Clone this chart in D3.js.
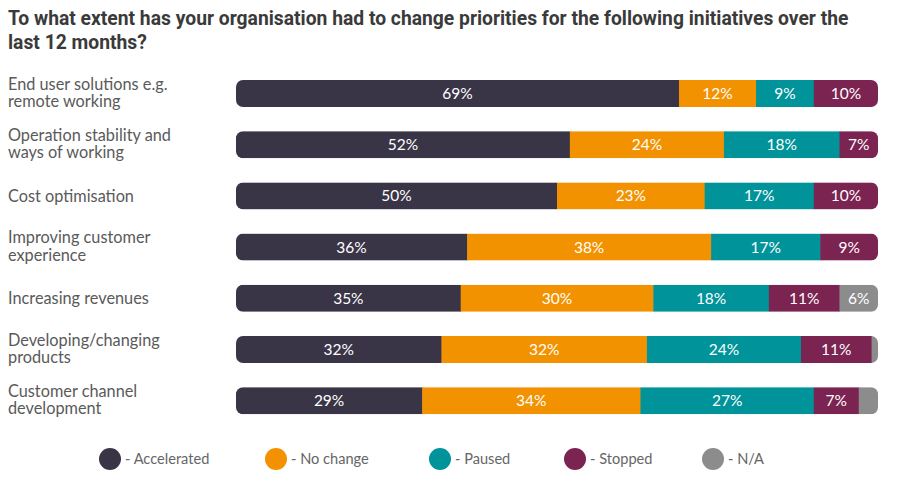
<!DOCTYPE html>
<html>
<head>
<meta charset="utf-8">
<script src="https://cdn.jsdelivr.net/npm/d3@7"></script>
<style>
  body { margin: 0; background: #fff; }
  svg { display: block; }
</style>
</head>
<body>
<svg id="chart" width="900" height="483"></svg>
<script>
// chart data
const categories = [
  ["End user solutions e.g.", "remote working"],
  ["Operation stability and", "ways of working"],
  ["Cost optimisation"],
  ["Improving customer", "experience"],
  ["Increasing revenues"],
  ["Developing/changing", "products"],
  ["Customer channel", "development"]
]
const seriesNames = ["Accelerated", "No change", "Paused", "Stopped", "N/A"]
const accelerated = [69, 52, 50, 36, 35, 32, 29]
const noChange = [12, 24, 23, 38, 30, 32, 34]
const paused = [9, 18, 17, 17, 18, 24, 27]
const stopped = [10, 7, 10, 9, 11, 11, 7]
const notApplicable = [0, 0, 0, 0, 6, 1, 3]

const colors = ["#3a3447", "#f39200", "#00939a", "#7b2351", "#8c8c8c"]

const svg = d3.select("#chart")
const margin = { left: 236, right: 22, top: 80 }
const width = 900 - margin.left - margin.right
const rowStep = 51.2
const barH = 27

// title
const title = svg.append("text")
  .style("font-family", "Roboto, sans-serif")
  .style("font-weight", "bold")
  .style("font-size", "19.3px")
  .style("fill", "#3a3a3a")
title.append("tspan").attr("x", 8).attr("y", 25).text("To what extent has your organisation had to change priorities for the following initiatives over the")
title.append("tspan").attr("x", 8).attr("y", 49).text("last 12 months?")

// build rows
const rows = categories.map((c, i) => {
  const vals = [accelerated[i], noChange[i], paused[i], stopped[i], notApplicable[i]]
  return { label: c, vals: vals }
})

const x = d3.scaleLinear().domain([0, 100]).range([0, width])
const nRows = rows.length
const y = d3.scaleBand()
  .domain(d3.range(nRows))
  .range([margin.top, margin.top + rowStep * (nRows - 1) + barH])
  .paddingInner(1 - barH / rowStep)
  .paddingOuter(0)

const defs = svg.append("defs")

rows.forEach((r, i) => {
  const y0 = y(i)
  defs.append("clipPath").attr("id", "clip" + i)
    .append("rect")
    .attr("x", margin.left).attr("y", y0)
    .attr("width", width).attr("height", y.bandwidth())
    .attr("rx", 7).attr("ry", 7)

  const g = svg.append("g").attr("clip-path", `url(#clip${i})`)
  let acc = 0
  const segs = r.vals.map((v, k) => {
    const s = { k: k, v: v, start: Math.min(acc, 100), end: Math.min(acc + v, 100) }
    acc += v
    return s
  })

  g.selectAll("rect")
    .data(segs.filter(s => s.v > 0))
    .join("rect")
    .attr("x", s => margin.left + x(s.start))
    .attr("y", y0)
    .attr("width", s => x(s.end) - x(s.start) + 0.5)
    .attr("height", y.bandwidth())
    .attr("fill", s => colors[s.k])

  svg.append("g").selectAll("text")
    .data(segs.filter(s => s.v >= 5))
    .join("text")
    .attr("x", s => margin.left + (x(s.start) + x(s.end)) / 2)
    .attr("y", y0 + y.bandwidth() / 2)
    .attr("dy", "0.36em")
    .attr("text-anchor", "middle")
    .style("font-family", "Lato, sans-serif")
    .style("font-size", "15.5px")
    .style("fill", "#fff")
    .text(s => s.v + "%")

  // category label
  const lab = svg.append("text")
    .style("font-family", "Lato, sans-serif")
    .style("font-size", "16.3px")
    .style("fill", "#5a5a5a")
  const cy = y0 + y.bandwidth() / 2
  if (r.label.length === 1) {
    lab.append("tspan").attr("x", 8).attr("y", cy + 6).text(r.label[0])
  } else {
    lab.append("tspan").attr("x", 8).attr("y", cy - 4).text(r.label[0])
    lab.append("tspan").attr("x", 8).attr("y", cy + 13.5).text(r.label[1])
  }
})

// legend
const legendX = [110, 276, 440, 575, 713]
const legend = svg.append("g")
seriesNames.forEach((n, k) => {
  legend.append("circle")
    .attr("cx", legendX[k]).attr("cy", 459).attr("r", 11)
    .attr("fill", colors[k])
  legend.append("text")
    .attr("x", legendX[k] + 15).attr("y", 459).attr("dy", "0.35em")
    .style("font-family", "Lato, sans-serif")
    .style("font-size", "14.6px")
    .style("fill", "#666")
    .text("- " + n)
})
</script>
</body>
</html>
